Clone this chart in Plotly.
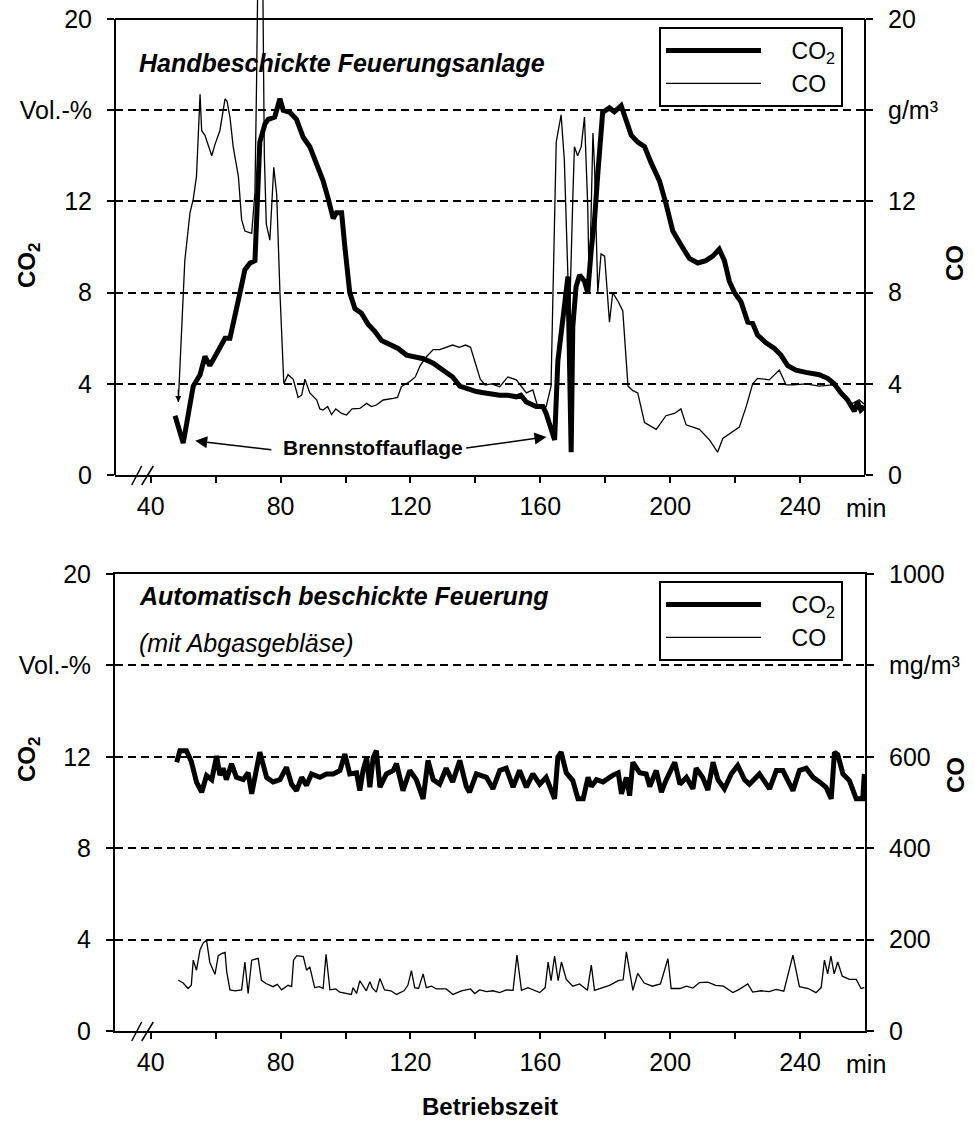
import plotly.graph_objects as go

# ---------------- data ----------------
# Top panel: hand-fed furnace. CO2 in Vol.-%, CO in g/m³
top_co2_t = [47.5, 48.5, 50.0, 51.0, 51.6, 52.1, 53.1, 54.0, 55.2, 56.7, 58.2, 59.8, 61.3, 62.9, 64.4,
             65.9, 67.5, 69.0, 70.6, 72.1, 72.6, 73.6, 75.2, 76.2, 78.2, 79.8, 80.8, 82.9, 84.9, 87.0,
             89.0, 91.1, 93.1, 94.7, 96.2, 97.2, 98.8, 99.8, 101.3, 102.9, 104.9, 107.0, 109.0, 111.1,
             112.6, 114.7, 116.2, 118.8, 121.0, 124.0, 127.0, 130.0, 133.0, 135.2, 137.0, 140.3, 143.0,
             147.5, 150.0, 152.6, 154.0, 155.7, 158.7, 160.8, 161.8, 162.4, 164.4, 165.4, 166.9, 168.5,
             169.5, 170.0, 171.0, 172.1, 173.6, 174.6, 175.7, 176.7, 177.7, 179.2, 181.3, 182.8, 184.9,
             186.4, 188.0, 190.0, 192.1, 194.1, 196.7, 198.7, 200.8, 203.3, 205.9, 208.5, 211.0, 213.1,
             215.1, 216.7, 218.2, 219.8, 221.8, 223.9, 225.4, 226.9, 229.5, 232.1, 234.1, 236.2, 238.7,
             241.8, 245.9, 248.5, 250.5, 252.6, 254.6, 256.7, 257.7, 258.7, 259.8]
top_co2 = [2.6, 2.1, 1.4, 2.2, 2.8, 3.1, 3.9, 4.1, 4.4, 5.2, 4.8, 5.2, 5.6, 6.0, 6.0,
           7.1, 8.0, 9.0, 9.3, 9.4, 11.0, 14.6, 15.4, 15.6, 15.7, 16.5, 16.0, 15.9, 15.6, 14.8,
           14.4, 13.7, 12.9, 12.1, 11.25, 11.5, 11.5, 10.0, 8.0, 7.3, 7.1, 6.6, 6.3, 5.9,
           5.8, 5.6, 5.55, 5.26, 5.2, 5.1, 4.9, 4.6, 4.3, 3.9, 3.8, 3.66, 3.6,
           3.5, 3.5, 3.43, 3.5, 3.2, 3.0, 3.0, 2.7, 2.4, 1.54, 5.0, 6.8, 8.7,
           1.0, 6.5, 8.25, 8.77, 8.5, 8.0, 9.9, 11.2, 13.2, 15.9, 16.1, 15.93, 16.2,
           15.6, 14.9, 14.6, 14.4, 13.7, 12.9, 11.9, 10.7, 10.1, 9.5, 9.3, 9.4, 9.6,
           9.9, 9.4, 8.5, 8.0, 7.6, 6.7, 6.65, 6.14, 5.8, 5.55, 5.26, 4.8, 4.6,
           4.5, 4.4, 4.24, 4.0, 3.6, 3.3, 2.8, 3.2, 2.85, 3.0]

top_co_t = [48.5, 49.5, 50.5, 52.1, 53.1, 54.1, 54.7, 55.2, 55.7, 56.7, 58.8, 59.8, 61.3, 62.9, 63.5,
            64.4, 65.4, 67.0, 68.0, 69.0, 71.1, 72.1, 72.6, 73.0, 74.5, 75.0, 75.6, 76.7, 77.9, 78.8,
            79.8, 81.0, 82.3, 83.9, 85.4, 86.5, 87.5, 89.0, 91.1, 92.1, 93.1, 94.5, 95.7, 97.0, 98.8,
            100.3, 102.0, 104.4, 106.5, 108.0, 109.5, 111.6, 114.7, 116.0, 117.2, 119.8, 121.5, 123.0,
            125.0, 127.0, 129.0, 131.0, 133.0, 135.0, 137.0, 138.5, 140.0, 141.5, 143.0, 145.0, 147.5,
            150.0, 152.6, 154.0, 155.7, 157.7, 159.2, 161.8, 163.3, 163.9, 164.9, 166.4, 167.4, 168.5,
            169.0, 170.0, 170.5, 171.5, 172.6, 173.6, 174.6, 175.1, 176.2, 176.7, 177.7, 178.7, 179.8,
            181.3, 182.3, 184.0, 185.4, 187.0, 188.5, 190.0, 192.1, 195.7, 198.7, 201.3, 203.3, 204.9,
            207.0, 209.0, 212.1, 214.6, 216.2, 219.2, 221.3, 223.4, 225.4, 226.9, 230.5, 233.6, 235.7,
            238.0, 241.8, 245.9, 250.0, 253.1, 255.6, 258.2, 259.8]
top_co = [3.2, 6.0, 9.4, 11.5, 12.1, 13.1, 15.3, 16.7, 15.1, 14.9, 14.0, 14.5, 15.1, 16.5, 16.4,
          15.7, 14.4, 13.1, 11.2, 10.7, 10.6, 12.4, 17.2, 22.0, 22.0, 14.0, 11.0, 10.3, 13.5, 12.3,
          8.0, 4.0, 4.4, 4.2, 3.4, 3.5, 4.2, 3.6, 3.3, 2.9, 2.85, 3.0, 2.65, 2.9, 2.7,
          2.63, 2.9, 2.92, 3.14, 3.0, 3.07, 3.29, 3.36, 3.4, 3.87, 4.1, 4.3, 4.8,
          5.2, 5.5, 5.5, 5.6, 5.7, 5.6, 5.7, 5.6, 4.9, 4.2, 3.95, 4.0, 3.87,
          4.3, 4.17, 3.9, 3.6, 3.73, 3.0, 3.0, 3.9, 8.0, 14.6, 15.8, 13.8, 8.7,
          6.9, 12.1, 14.4, 14.0, 14.4, 15.7, 11.8, 8.0, 15.0, 13.5, 8.0, 9.7, 9.6,
          6.7, 8.0, 7.6, 7.2, 3.9, 3.7, 3.6, 2.3, 2.0, 2.6, 2.7, 2.9, 2.2,
          2.1, 2.0, 1.54, 1.0, 1.6, 1.9, 2.1, 3.0, 4.0, 4.24, 4.17, 4.6, 3.95,
          3.95, 4.0, 3.9, 3.95, 3.6, 3.1, 3.3, 3.1]

# Bottom panel: automatically fed furnace. CO2 in Vol.-%, CO in mg/m³
bot_co2_t = [48, 49, 51, 52.5, 54.1, 55.7, 57.2, 58.8, 60.3, 61.3, 62.3, 63.3, 64.9, 66.4, 68.5, 70,
             71.1, 72.1, 73.6, 75.7, 77.7, 79.8, 81.8, 83.4, 84.9, 86.5, 88, 89.5, 92.1, 94.1, 96.2,
             98.3, 99.8, 101.3, 103.4, 104.4, 105.4, 106.5, 107.5, 108.5, 109.5, 110.6, 112.6, 114.7,
             115.7, 117.7, 119.8, 121.8, 123.9, 125.4, 127, 129, 131, 133, 135.2, 137.2, 138.2, 140.3,
             143.4, 145.4, 147.5, 149.5, 151.6, 153.6, 155.7, 157.7, 159.8, 161.8, 164.4, 165.4, 166.4,
             168, 170, 171.6, 173.2, 174.7, 175.7, 177.3, 179.3, 182.4, 184, 185, 186.5, 187.5, 188.5,
             190.6, 192.6, 193.7, 195.7, 197.3, 198.8, 201.4, 203, 205, 207, 208, 210, 211.6, 213.2,
             214.7, 216.7, 218.8, 220.8, 222.9, 224.4, 227.5, 230.6, 232.7, 234.7, 237.8, 239.8, 241.9,
             244, 246, 248, 249.6, 250.6, 251.6, 253.2, 255.2, 257.3, 259.3, 259.8]
bot_co2 = [11.76, 12.27, 12.27, 11.8, 10.89, 10.45, 11.18, 11.0, 12.04, 11.2, 11.5, 11.0, 11.69, 11.1, 11.0, 11.3,
           10.38, 11.1, 12.2, 11.1, 10.9, 11.0, 11.54, 10.8, 10.52, 11.1, 10.75, 11.25, 11.1, 11.25, 11.25,
           11.4, 12.12, 11.25, 11.3, 10.52, 11.4, 11.95, 10.67, 11.95, 12.27, 10.67, 11.25, 11.4,
           11.7, 10.52, 11.4, 11.0, 10.16, 11.84, 11.0, 10.8, 11.5, 10.9, 11.84, 10.7, 10.45, 11.25,
           11.1, 10.6, 11.4, 11.5, 10.67, 11.4, 10.67, 11.25, 10.8, 11.1, 10.16, 11.99, 12.2,
           11.3, 10.96, 10.16, 10.16, 11.1, 10.7, 11.0, 10.9, 11.2, 11.3, 10.38, 11.1, 10.3, 11.76,
           11.3, 11.25, 10.7, 11.4, 10.45, 11.0, 11.76, 10.8, 11.1, 10.6, 11.5, 11.1, 10.55, 11.76,
           11.0, 10.6, 11.25, 11.62, 11.0, 10.8, 11.25, 10.6, 11.4, 11.4, 10.52, 11.4, 11.5,
           11.1, 10.9, 10.67, 10.16, 12.2, 12.1, 11.25, 10.96, 10.16, 10.16, 11.25]

bot_co_t = [48.5, 50, 51.5, 52.5, 53.1, 54.1, 55.2, 56.2, 57.2, 58.2, 59.8, 60.8, 62, 62.9, 63.4, 64.4,
            66, 68, 69, 70, 71.1, 73.1, 74.1, 75.5, 77.7, 79, 80.3, 82.3, 83.4, 84, 85, 87, 88, 89,
            90.5, 92, 93.1, 94, 95.2, 97, 98.2, 100, 101.8, 102.3, 103.4, 104.4, 105.4, 106.4, 107.5,
            108.2, 109.5, 110.6, 112, 114, 115.7, 118, 119.2, 120.3, 121.3, 122.5, 123.9, 124.9, 126.5,
            128, 131, 133.1, 135.7, 138.5, 139.8, 141.3, 143.5, 145.4, 147.5, 149.5, 151.6, 152.8, 154.2,
            156.2, 159.8, 161.5, 162.4, 163.3, 164.4, 165.5, 166.5, 168, 170, 172.1, 174.5, 175.7, 176.7,
            179, 181.3, 184, 185.5, 186.5, 188.5, 190, 192, 194.5, 197, 199.3, 200.3, 203, 205, 207, 209,
            211.6, 214, 216.4, 219.3, 221, 223.9, 225.4, 228, 230.5, 232.6, 235, 237.8, 239.8, 242.5,
            244.9, 246.5, 247.5, 248.5, 249.5, 250.5, 251.6, 253, 255.2, 257.3, 258.8, 259.8]
bot_co = [111, 105, 93, 100, 155, 133, 178, 193, 199, 150, 124, 165, 170, 172, 130, 90,
          88, 90, 151, 82, 155, 159, 111, 104, 97, 102, 90, 100, 97, 155, 165, 163, 133, 140,
          95, 97, 93, 168, 90, 92, 85, 83, 80, 95, 82, 110, 98, 88, 108,
          95, 85, 115, 90, 88, 80, 88, 100, 132, 95, 93, 125, 95, 98,
          92, 92, 80, 88, 92, 82, 90, 86, 88, 84, 90, 89, 166, 89,
          95, 84, 95, 151, 110, 164, 110, 151, 113, 98, 103, 89, 144, 89,
          95, 100, 110, 112, 173, 89, 126, 105, 98, 103, 158, 93, 93, 98, 94, 106,
          107, 100, 98, 84, 90, 103, 85, 88, 86, 91, 87, 166, 97, 93,
          84, 95, 155, 125, 164, 125, 151, 120, 113, 113, 93, 95]

x_tickvals = list(range(40, 241, 20))
x_ticktext = [str(v) if v % 40 == 0 else "" for v in x_tickvals]
y_tickvals = [0, 4, 8, 12, 16, 20]
y_left_text = ["0", "4", "8", "12", "Vol.-%", "20"]
y_right_top_text = ["0", "4", "8", "12", "g/m³", "20"]
co_mg_tickvals = [0, 200, 400, 600, 800, 1000]
co_mg_text = ["0", "200", "400", "600", "mg/m³", "1000"]

# ---------------- layout geometry ----------------
W, H = 974, 1124
L, R, T, B = 115, 109, 0, 93
PW = W - L - R
PH = H - T - B
X_RANGE = [29, 260]


def py(px):  # pixel row -> paper y
    return (PH - (px - T)) / PH


def pxp(px):  # pixel column -> paper x
    return (px - L) / PW


TOP_Y0, TOP_Y20 = 475, 19
BOT_Y0, BOT_Y20 = 1031, 574
top_ppu = (TOP_Y0 - TOP_Y20) / 20.0
top_ymax = (TOP_Y0 - T) / top_ppu
top_domain = [py(TOP_Y0), 1.0]
bot_domain = [0.0, py(BOT_Y20)]

FONT = "Liberation Sans, Arial, Helvetica, sans-serif"
BLACK = "black"
NB = "\u00a0" * 4

fig = go.Figure()

fig.add_trace(go.Scatter(x=top_co2_t, y=top_co2, mode="lines", name=NB + "CO<sub>2</sub>",
                         line=dict(color=BLACK, width=5), xaxis="x", yaxis="y", legend="legend"))
fig.add_trace(go.Scatter(x=top_co_t, y=top_co, mode="lines", name=NB + "CO",
                         line=dict(color=BLACK, width=1.3), xaxis="x", yaxis="y2", legend="legend"))
fig.add_trace(go.Scatter(x=bot_co2_t, y=bot_co2, mode="lines", name=NB + "CO<sub>2</sub>",
                         line=dict(color=BLACK, width=5), xaxis="x2", yaxis="y3", legend="legend2"))
fig.add_trace(go.Scatter(x=bot_co_t, y=bot_co, mode="lines", name=NB + "CO",
                         line=dict(color=BLACK, width=1.3), xaxis="x2", yaxis="y4", legend="legend2"))

xaxis_common = dict(range=X_RANGE, tickvals=x_tickvals, ticktext=x_ticktext, ticks="outside",
                    ticklen=6, tickwidth=1.5, tickcolor=BLACK, showline=True, linewidth=2,
                    linecolor=BLACK, showgrid=False, zeroline=False, automargin=False,
                    tickfont=dict(size=25, family=FONT, color=BLACK), ticklabelstandoff=2)
yl_common = dict(tickvals=y_tickvals, ticktext=y_left_text, ticks="outside", ticklen=7, tickwidth=1.5,
                 tickcolor=BLACK, showgrid=True, gridcolor=BLACK, gridwidth=1.5, griddash="8px,5px",
                 zeroline=False, automargin=False,
                 tickfont=dict(size=25, family=FONT, color=BLACK), ticklabelstandoff=10)
yr_common = dict(ticks="outside", ticklen=7, tickwidth=1.5, tickcolor=BLACK, showgrid=False,
                 zeroline=False, side="right", automargin=False,
                 tickfont=dict(size=25, family=FONT, color=BLACK), ticklabelstandoff=10)

fig.update_layout(
    width=W, height=H, autosize=False,
    margin=dict(l=L, r=R, t=T, b=B, pad=0, autoexpand=False),
    paper_bgcolor="white", plot_bgcolor="white",
    font=dict(family=FONT, color=BLACK, size=25),
    xaxis=dict(domain=[0, 1], anchor="y", **xaxis_common),
    yaxis=dict(domain=top_domain, anchor="x", range=[0, top_ymax], showline=False, **yl_common),
    yaxis2=dict(overlaying="y", anchor="x", range=[0, top_ymax], tickvals=y_tickvals,
                ticktext=y_right_top_text, showline=False, **yr_common),
    xaxis2=dict(domain=[0, 1], anchor="y3", mirror=True, **xaxis_common),
    yaxis3=dict(domain=bot_domain, anchor="x2", range=[0, 20], showline=True, linewidth=2,
                linecolor=BLACK, **yl_common),
    yaxis4=dict(overlaying="y3", anchor="x2", range=[0, 1000], tickvals=co_mg_tickvals,
                ticktext=co_mg_text, showline=True, linewidth=2, linecolor=BLACK, **yr_common),
    legend=dict(x=pxp(659), y=py(27), xanchor="left", yanchor="top", bgcolor="white",
                bordercolor=BLACK, borderwidth=2, font=dict(size=23, family=FONT),
                itemwidth=95, tracegroupgap=0),
    legend2=dict(x=pxp(659), y=py(581), xanchor="left", yanchor="top", bgcolor="white",
                 bordercolor=BLACK, borderwidth=2, font=dict(size=23, family=FONT),
                 itemwidth=95, tracegroupgap=0),
    showlegend=True,
)

# frame of the top panel (lines may overshoot the 20 mark, as in the original)
y20 = py(TOP_Y20)
y0 = py(TOP_Y0)
frame = dict(type="line", xref="paper", yref="paper", line=dict(color=BLACK, width=2))
fig.add_shape(x0=0, x1=1, y0=y20, y1=y20, **frame)
fig.add_shape(x0=0, x1=0, y0=y0, y1=y20, **frame)
fig.add_shape(x0=1, x1=1, y0=y0, y1=y20, **frame)

# axis-break marks on both x axes
for base in (TOP_Y0, BOT_Y0):
    for xa, xb in ((131.7, 141.7), (141.7, 153.3)):
        fig.add_shape(type="line", xref="paper", yref="paper",
                      x0=pxp(xa), x1=pxp(xb), y0=py(base + 10), y1=py(base - 9),
                      line=dict(color=BLACK, width=1.5))

ann = []
ann.append(dict(text="<b><i>Handbeschickte Feuerungsanlage</i></b>", x=pxp(137), y=py(63),
                xref="paper", yref="paper", xanchor="left", yanchor="middle", showarrow=False,
                font=dict(size=25)))
ann.append(dict(text="<b><i>Automatisch beschickte Feuerung</i></b>", x=pxp(137), y=py(596),
                xref="paper", yref="paper", xanchor="left", yanchor="middle", showarrow=False,
                font=dict(size=25)))
ann.append(dict(text="<i>(mit Abgasgebläse)</i>", x=pxp(137), y=py(643),
                xref="paper", yref="paper", xanchor="left", yanchor="middle", showarrow=False,
                font=dict(size=25)))
# Brennstoffauflage label and arrows
ann.append(dict(text="<b>Brennstoffauflage</b>", x=108.6, y=1.2, xref="x", yref="y",
                showarrow=False, font=dict(size=21)))
ann.append(dict(text="", x=53.7, y=1.5, ax=77.6, ay=1.1, xref="x", yref="y", axref="x", ayref="y",
                showarrow=True, arrowhead=2, arrowsize=1.6, arrowwidth=1.5, arrowcolor=BLACK))
ann.append(dict(text="", x=161.9, y=1.67, ax=136.7, ay=1.18, xref="x", yref="y", axref="x", ayref="y",
                showarrow=True, arrowhead=2, arrowsize=1.6, arrowwidth=1.5, arrowcolor=BLACK))
ann.append(dict(text="", x=48.5, y=3.2, ax=0, ay=-14, xref="x", yref="y",
                showarrow=True, arrowhead=2, arrowsize=1, arrowwidth=1.2, arrowcolor=BLACK))
# "min" units
for ypx in (508, 1064):
    ann.append(dict(text="min", x=pxp(866), y=py(ypx), xref="paper", yref="paper",
                    xanchor="center", yanchor="middle", showarrow=False, font=dict(size=25)))
# axis titles
for txt, xpx, ypx in (("<b>CO<sub>2</sub></b>", 28, 266), ("<b>CO</b>", 955, 263),
                      ("<b>CO<sub>2</sub></b>", 28, 760), ("<b>CO</b>", 955, 775)):
    ann.append(dict(text=txt, x=pxp(xpx), y=py(ypx), xref="paper", yref="paper", textangle=-90,
                    xanchor="center", yanchor="middle", showarrow=False, font=dict(size=24)))
ann.append(dict(text="<b>Betriebszeit</b>", x=pxp(490), y=py(1106), xref="paper", yref="paper",
                xanchor="center", yanchor="middle", showarrow=False, font=dict(size=24)))

fig.update_layout(annotations=ann)

fig.write_html("out.html")
